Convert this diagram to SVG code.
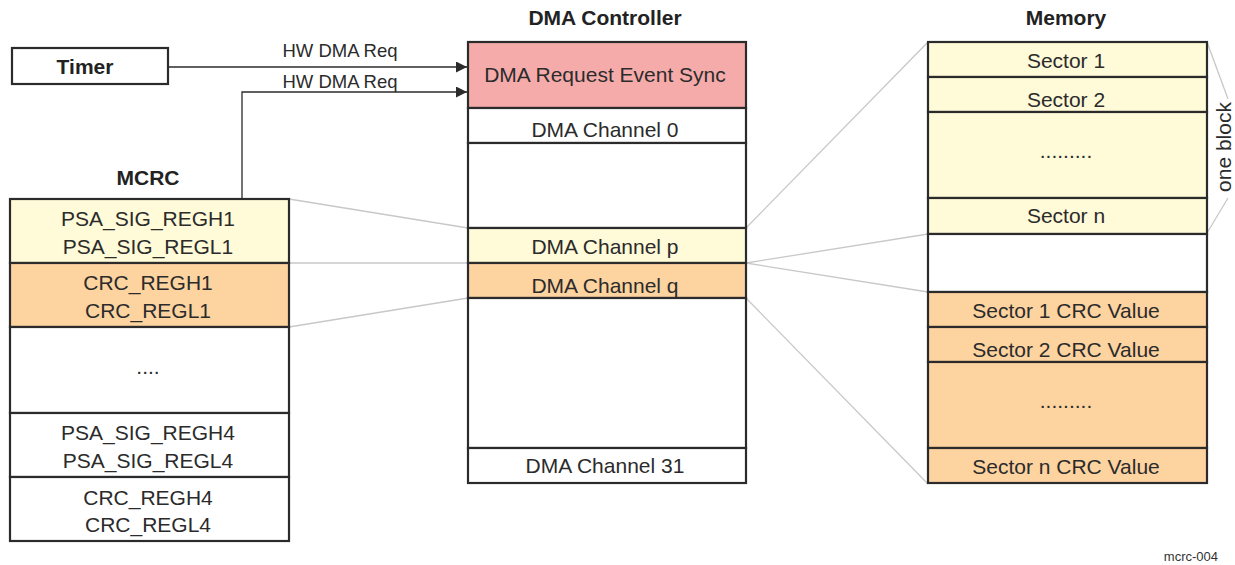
<svg xmlns="http://www.w3.org/2000/svg" width="1235" height="565" viewBox="0 0 1235 565">
<style>
.box{stroke:#2b2b2b;stroke-width:2.2}
.w{fill:#ffffff}
.y{fill:#fffad8}
.o{fill:#fdd3a0}
.p{fill:#f6abab}
.t{font-family:"Liberation Sans",Arial,sans-serif;font-size:21px;fill:#2b2b2b;text-anchor:middle}
.h{font-family:"Liberation Sans",Arial,sans-serif;font-size:21px;font-weight:bold;fill:#222;text-anchor:middle}
.s{font-family:"Liberation Sans",Arial,sans-serif;font-size:18.5px;fill:#2b2b2b;text-anchor:middle}
.g{stroke:#c8c8c8;stroke-width:1.3;fill:none}
.a{stroke:#2b2b2b;stroke-width:1.3;fill:none}
</style>
<defs>
<marker id="arr" viewBox="0 0 10 10" refX="10" refY="5" markerWidth="11" markerHeight="11" markerUnits="userSpaceOnUse" orient="auto">
<path d="M0,0 L10,5 L0,10 z" fill="#2b2b2b"/>
</marker>
</defs>
<rect width="1235" height="565" fill="#ffffff"/>

<g id="connectors">
<line class="g" x1="289" y1="199" x2="468" y2="228"/>
<line class="g" x1="289" y1="263" x2="468" y2="263"/>
<line class="g" x1="289" y1="327" x2="468" y2="298"/>
<line class="g" x1="746" y1="228" x2="928" y2="42"/>
<line class="g" x1="746" y1="263" x2="928" y2="234"/>
<line class="g" x1="746" y1="263" x2="928" y2="292"/>
<line class="g" x1="746" y1="298" x2="928" y2="484"/>
<polyline class="g" points="1207,42 1228,99"/>
<polyline class="g" points="1228,198 1207,233"/>
<line class="a" x1="168" y1="67" x2="467" y2="67" marker-end="url(#arr)"/>
<polyline class="a" points="242,199 242,92 467,92" marker-end="url(#arr)"/>
<text class="s" x="340" y="57">HW DMA Req</text>
<text class="s" x="340" y="88">HW DMA Req</text>
</g>

<g id="timer">
<rect class="box w" x="12" y="48" width="156" height="36"/>
<text class="h" x="85" y="74">Timer</text>
</g>

<g id="mcrc">
<text class="h" x="148" y="185">MCRC</text>
<rect class="box y" x="10" y="199" width="279" height="64"/>
<text class="t" x="148" y="226">PSA_SIG_REGH1</text>
<text class="t" x="148" y="254">PSA_SIG_REGL1</text>
<rect class="box o" x="10" y="263" width="279" height="64"/>
<text class="t" x="148" y="290">CRC_REGH1</text>
<text class="t" x="148" y="318">CRC_REGL1</text>
<rect class="box w" x="10" y="327" width="279" height="86"/>
<text class="t" x="148" y="374">....</text>
<rect class="box w" x="10" y="413" width="279" height="64"/>
<text class="t" x="148" y="440">PSA_SIG_REGH4</text>
<text class="t" x="148" y="468">PSA_SIG_REGL4</text>
<rect class="box w" x="10" y="477" width="279" height="64"/>
<text class="t" x="148" y="505">CRC_REGH4</text>
<text class="t" x="148" y="532">CRC_REGL4</text>
</g>

<g id="dma">
<text class="h" x="605" y="25">DMA Controller</text>
<rect class="box p" x="468" y="42" width="278" height="66"/>
<text class="t" x="605" y="82">DMA Request Event Sync</text>
<rect class="box w" x="468" y="108" width="278" height="35"/>
<text class="t" x="605" y="137">DMA Channel 0</text>
<rect class="box w" x="468" y="143" width="278" height="85"/>
<rect class="box y" x="468" y="228" width="278" height="35"/>
<text class="t" x="605" y="254">DMA Channel p</text>
<rect class="box o" x="468" y="263" width="278" height="35"/>
<text class="t" x="605" y="293">DMA Channel q</text>
<rect class="box w" x="468" y="298" width="278" height="150"/>
<rect class="box w" x="468" y="448" width="278" height="35"/>
<text class="t" x="605" y="473">DMA Channel 31</text>
</g>

<g id="memory">
<text class="h" x="1066" y="25">Memory</text>
<rect class="box y" x="928" y="42" width="279" height="35"/>
<text class="t" x="1066" y="68">Sector 1</text>
<rect class="box y" x="928" y="77" width="279" height="35"/>
<text class="t" x="1066" y="107">Sector 2</text>
<rect class="box y" x="928" y="112" width="279" height="86"/>
<text class="t" x="1066" y="158">.........</text>
<rect class="box y" x="928" y="198" width="279" height="36"/>
<text class="t" x="1066" y="223">Sector n</text>
<rect class="box w" x="928" y="234" width="279" height="58"/>
<rect class="box o" x="928" y="292" width="279" height="35"/>
<text class="t" x="1066" y="318">Sector 1 CRC Value</text>
<rect class="box o" x="928" y="327" width="279" height="35"/>
<text class="t" x="1066" y="357">Sector 2 CRC Value</text>
<rect class="box o" x="928" y="362" width="279" height="86"/>
<text class="t" x="1066" y="408">.........</text>
<rect class="box o" x="928" y="448" width="279" height="35"/>
<text class="t" x="1066" y="474">Sector n CRC Value</text>
</g>

<g id="one-block">
<text class="t" transform="translate(1231 147) rotate(-90)">one block</text>
</g>

<text x="1218" y="561" font-family="'Liberation Sans',Arial,sans-serif" font-size="13" fill="#333" text-anchor="end">mcrc-004</text>
</svg>
